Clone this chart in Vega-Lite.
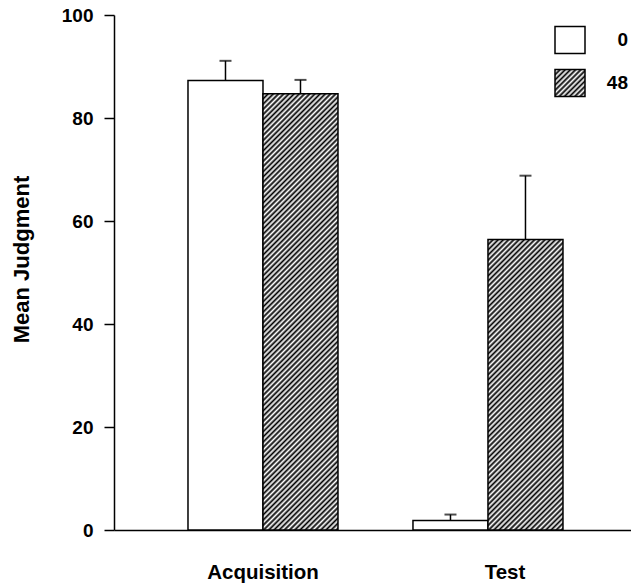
{
  "$schema": "https://vega.github.io/schema/vega-lite/v6.json",
  "width": 517,
  "height": 515,
  "autosize": {"type": "none"},
  "padding": {"left": 114, "top": 15, "right": 0, "bottom": 56},
  "background": "white",
  "config": {
    "font": "Liberation Sans",
    "view": {"stroke": null},
    "axis": {"labelColor": "black", "titleColor": "black", "domainColor": "black", "tickColor": "black", "labelFontWeight": "bold", "titleFontWeight": "bold"},
    "legend": {"labelFontWeight": "bold"}
  },
  "params": [
    {"name": "hatchStops", "value": [
      {"offset":0,"color":"#000"},{"offset":0.005,"color":"#fff"},{"offset":0.01,"color":"#000"},{"offset":0.015,"color":"#fff"},{"offset":0.02,"color":"#000"},{"offset":0.025,"color":"#fff"},{"offset":0.03,"color":"#000"},{"offset":0.035,"color":"#fff"},{"offset":0.04,"color":"#000"},{"offset":0.045,"color":"#fff"},
      {"offset":0.05,"color":"#000"},{"offset":0.055,"color":"#fff"},{"offset":0.06,"color":"#000"},{"offset":0.065,"color":"#fff"},{"offset":0.07,"color":"#000"},{"offset":0.075,"color":"#fff"},{"offset":0.08,"color":"#000"},{"offset":0.085,"color":"#fff"},{"offset":0.09,"color":"#000"},{"offset":0.095,"color":"#fff"},
      {"offset":0.1,"color":"#000"},{"offset":0.105,"color":"#fff"},{"offset":0.11,"color":"#000"},{"offset":0.115,"color":"#fff"},{"offset":0.12,"color":"#000"},{"offset":0.125,"color":"#fff"},{"offset":0.13,"color":"#000"},{"offset":0.135,"color":"#fff"},{"offset":0.14,"color":"#000"},{"offset":0.145,"color":"#fff"},
      {"offset":0.15,"color":"#000"},{"offset":0.155,"color":"#fff"},{"offset":0.16,"color":"#000"},{"offset":0.165,"color":"#fff"},{"offset":0.17,"color":"#000"},{"offset":0.175,"color":"#fff"},{"offset":0.18,"color":"#000"},{"offset":0.185,"color":"#fff"},{"offset":0.19,"color":"#000"},{"offset":0.195,"color":"#fff"},
      {"offset":0.2,"color":"#000"},{"offset":0.205,"color":"#fff"},{"offset":0.21,"color":"#000"},{"offset":0.215,"color":"#fff"},{"offset":0.22,"color":"#000"},{"offset":0.225,"color":"#fff"},{"offset":0.23,"color":"#000"},{"offset":0.235,"color":"#fff"},{"offset":0.24,"color":"#000"},{"offset":0.245,"color":"#fff"},
      {"offset":0.25,"color":"#000"},{"offset":0.255,"color":"#fff"},{"offset":0.26,"color":"#000"},{"offset":0.265,"color":"#fff"},{"offset":0.27,"color":"#000"},{"offset":0.275,"color":"#fff"},{"offset":0.28,"color":"#000"},{"offset":0.285,"color":"#fff"},{"offset":0.29,"color":"#000"},{"offset":0.295,"color":"#fff"},
      {"offset":0.3,"color":"#000"},{"offset":0.305,"color":"#fff"},{"offset":0.31,"color":"#000"},{"offset":0.315,"color":"#fff"},{"offset":0.32,"color":"#000"},{"offset":0.325,"color":"#fff"},{"offset":0.33,"color":"#000"},{"offset":0.335,"color":"#fff"},{"offset":0.34,"color":"#000"},{"offset":0.345,"color":"#fff"},
      {"offset":0.35,"color":"#000"},{"offset":0.355,"color":"#fff"},{"offset":0.36,"color":"#000"},{"offset":0.365,"color":"#fff"},{"offset":0.37,"color":"#000"},{"offset":0.375,"color":"#fff"},{"offset":0.38,"color":"#000"},{"offset":0.385,"color":"#fff"},{"offset":0.39,"color":"#000"},{"offset":0.395,"color":"#fff"},
      {"offset":0.4,"color":"#000"},{"offset":0.405,"color":"#fff"},{"offset":0.41,"color":"#000"},{"offset":0.415,"color":"#fff"},{"offset":0.42,"color":"#000"},{"offset":0.425,"color":"#fff"},{"offset":0.43,"color":"#000"},{"offset":0.435,"color":"#fff"},{"offset":0.44,"color":"#000"},{"offset":0.445,"color":"#fff"},
      {"offset":0.45,"color":"#000"},{"offset":0.455,"color":"#fff"},{"offset":0.46,"color":"#000"},{"offset":0.465,"color":"#fff"},{"offset":0.47,"color":"#000"},{"offset":0.475,"color":"#fff"},{"offset":0.48,"color":"#000"},{"offset":0.485,"color":"#fff"},{"offset":0.49,"color":"#000"},{"offset":0.495,"color":"#fff"},
      {"offset":0.5,"color":"#000"},{"offset":0.505,"color":"#fff"},{"offset":0.51,"color":"#000"},{"offset":0.515,"color":"#fff"},{"offset":0.52,"color":"#000"},{"offset":0.525,"color":"#fff"},{"offset":0.53,"color":"#000"},{"offset":0.535,"color":"#fff"},{"offset":0.54,"color":"#000"},{"offset":0.545,"color":"#fff"},
      {"offset":0.55,"color":"#000"},{"offset":0.555,"color":"#fff"},{"offset":0.56,"color":"#000"},{"offset":0.565,"color":"#fff"},{"offset":0.57,"color":"#000"},{"offset":0.575,"color":"#fff"},{"offset":0.58,"color":"#000"},{"offset":0.585,"color":"#fff"},{"offset":0.59,"color":"#000"},{"offset":0.595,"color":"#fff"},
      {"offset":0.6,"color":"#000"},{"offset":0.605,"color":"#fff"},{"offset":0.61,"color":"#000"},{"offset":0.615,"color":"#fff"},{"offset":0.62,"color":"#000"},{"offset":0.625,"color":"#fff"},{"offset":0.63,"color":"#000"},{"offset":0.635,"color":"#fff"},{"offset":0.64,"color":"#000"},{"offset":0.645,"color":"#fff"},
      {"offset":0.65,"color":"#000"},{"offset":0.655,"color":"#fff"},{"offset":0.66,"color":"#000"},{"offset":0.665,"color":"#fff"},{"offset":0.67,"color":"#000"},{"offset":0.675,"color":"#fff"},{"offset":0.68,"color":"#000"},{"offset":0.685,"color":"#fff"},{"offset":0.69,"color":"#000"},{"offset":0.695,"color":"#fff"},
      {"offset":0.7,"color":"#000"},{"offset":0.705,"color":"#fff"},{"offset":0.71,"color":"#000"},{"offset":0.715,"color":"#fff"},{"offset":0.72,"color":"#000"},{"offset":0.725,"color":"#fff"},{"offset":0.73,"color":"#000"},{"offset":0.735,"color":"#fff"},{"offset":0.74,"color":"#000"},{"offset":0.745,"color":"#fff"},
      {"offset":0.75,"color":"#000"},{"offset":0.755,"color":"#fff"},{"offset":0.76,"color":"#000"},{"offset":0.765,"color":"#fff"},{"offset":0.77,"color":"#000"},{"offset":0.775,"color":"#fff"},{"offset":0.78,"color":"#000"},{"offset":0.785,"color":"#fff"},{"offset":0.79,"color":"#000"},{"offset":0.795,"color":"#fff"},
      {"offset":0.8,"color":"#000"},{"offset":0.805,"color":"#fff"},{"offset":0.81,"color":"#000"},{"offset":0.815,"color":"#fff"},{"offset":0.82,"color":"#000"},{"offset":0.825,"color":"#fff"},{"offset":0.83,"color":"#000"},{"offset":0.835,"color":"#fff"},{"offset":0.84,"color":"#000"},{"offset":0.845,"color":"#fff"},
      {"offset":0.85,"color":"#000"},{"offset":0.855,"color":"#fff"},{"offset":0.86,"color":"#000"},{"offset":0.865,"color":"#fff"},{"offset":0.87,"color":"#000"},{"offset":0.875,"color":"#fff"},{"offset":0.88,"color":"#000"},{"offset":0.885,"color":"#fff"},{"offset":0.89,"color":"#000"},{"offset":0.895,"color":"#fff"},
      {"offset":0.9,"color":"#000"},{"offset":0.905,"color":"#fff"},{"offset":0.91,"color":"#000"},{"offset":0.915,"color":"#fff"},{"offset":0.92,"color":"#000"},{"offset":0.925,"color":"#fff"},{"offset":0.93,"color":"#000"},{"offset":0.935,"color":"#fff"},{"offset":0.94,"color":"#000"},{"offset":0.945,"color":"#fff"},
      {"offset":0.95,"color":"#000"},{"offset":0.955,"color":"#fff"},{"offset":0.96,"color":"#000"},{"offset":0.965,"color":"#fff"},{"offset":0.97,"color":"#000"},{"offset":0.975,"color":"#fff"},{"offset":0.98,"color":"#000"},{"offset":0.985,"color":"#fff"},{"offset":0.99,"color":"#000"},{"offset":0.995,"color":"#fff"},
      {"offset":1,"color":"#000"}
    ]}
  ],
  "data": {
    "values": [
      {"phase": "Acquisition", "delay": "0", "mean": 87.3, "upper": 91.1},
      {"phase": "Acquisition", "delay": "48", "mean": 84.7, "upper": 87.4},
      {"phase": "Test", "delay": "0", "mean": 1.85, "upper": 3.0},
      {"phase": "Test", "delay": "48", "mean": 56.4, "upper": 68.8}
    ]
  },
  "encoding": {
    "x": {
      "field": "phase",
      "type": "nominal",
      "scale": {"domain": ["Acquisition", "Test"], "paddingInner": 0.3333, "paddingOuter": 0.3156, "align": 0.521},
      "axis": {
        "title": null,
        "ticks": false,
        "labelPadding": 32,
        "labelFontSize": 20.5,
        "domainWidth": 1.5,
        "labelAngle": 0,
        "labelOffset": {"condition": {"test": "datum.value === 'Test'", "value": 17}, "value": 0}
      }
    },
    "xOffset": {"field": "delay", "type": "nominal", "scale": {"domain": ["0", "48"], "paddingInner": 0, "paddingOuter": 0}}
  },
  "layer": [
    {
      "transform": [{"filter": "datum.delay === '0'"}],
      "mark": {"type": "bar", "stroke": "black", "strokeWidth": 1.5},
      "encoding": {
        "y": {
          "field": "mean",
          "type": "quantitative",
          "scale": {"domain": [0, 100]},
          "axis": {"values": [0, 20, 40, 60, 80, 100], "title": "Mean Judgment", "grid": false, "tickSize": 10, "labelPadding": 11, "labelFontSize": 19, "titleFontSize": 22, "titleX": -81, "titleY": 244, "domainWidth": 1.5, "tickWidth": 1.5}
        },
        "fill": {
          "field": "delay",
          "type": "nominal",
          "scale": {"domain": ["0", "48"], "range": ["white", {"expr": "{gradient: 'linear', x1: 0, y1: 0, x2: 9.5764, y2: 8.6188, stops: hatchStops}"}]},
          "legend": {
            "title": null,
            "orient": "none",
            "legendX": 440,
            "legendY": 9,
            "symbolType": "M-1,-0.9H1V0.9H-1Z",
            "symbolSize": 900,
            "symbolStrokeColor": "black",
            "symbolStrokeWidth": 1.5,
            "symbolOpacity": 1,
            "labelFontSize": 19,
            "labelOffset": 42,
            "labelAlign": "right",
            "labelColor": "black",
            "rowPadding": 9,
            "padding": 0
          }
        }
      }
    },
    {
      "transform": [{"filter": "datum.phase === 'Acquisition' && datum.delay === '48'"}],
      "mark": {"type": "bar", "stroke": "black", "strokeWidth": 1.5, "fill": {"expr": "{gradient: 'linear', x1: 0, y1: 0, x2: 0.19909, y2: 1.15789, stops: hatchStops}"}},
      "encoding": {"y": {"field": "mean", "type": "quantitative"}}
    },
    {
      "transform": [{"filter": "datum.phase === 'Test' && datum.delay === '48'"}],
      "mark": {"type": "bar", "stroke": "black", "strokeWidth": 1.5, "fill": {"expr": "{gradient: 'linear', x1: 0, y1: 0, x2: 0.43326, y2: 1.67816, stops: hatchStops}"}},
      "encoding": {"y": {"field": "mean", "type": "quantitative"}}
    },
    {
      "mark": {"type": "rule", "strokeWidth": 1.5, "color": "black"},
      "encoding": {"y": {"field": "mean", "type": "quantitative"}, "y2": {"field": "upper"}}
    },
    {
      "mark": {"type": "tick", "thickness": 2, "size": 12, "color": "black"},
      "encoding": {"y": {"field": "upper", "type": "quantitative"}}
    }
  ]
}
